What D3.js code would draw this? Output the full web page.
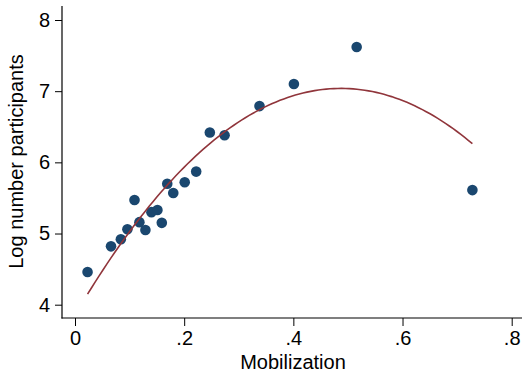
<!DOCTYPE html>
<html>
<head>
<meta charset="utf-8">
<script src="https://cdn.jsdelivr.net/npm/d3@7"></script>
<style>
  html, body { margin: 0; padding: 0; background: #fff; }
  svg { display: block; }
  text { font-family: "Liberation Sans", Arial, Helvetica, sans-serif; fill: #000; }
</style>
</head>
<body>
<svg id="chart" width="522" height="373"></svg>
<script>
// Data
const mobilization = [0.023, 0.066, 0.084, 0.096, 0.109, 0.118, 0.129, 0.140, 0.151, 0.159,
                      0.169, 0.180, 0.201, 0.222, 0.247, 0.274, 0.338, 0.401, 0.516, 0.728];
const logParticipants = [4.46, 4.82, 4.92, 5.06, 5.47, 5.16, 5.05, 5.30, 5.33, 5.15,
                         5.70, 5.57, 5.72, 5.87, 6.42, 6.38, 6.79, 7.10, 7.62, 5.61];
// Quadratic fit line (intercept, linear, quadratic)
const fitCoefficients = [3.854, 13.07, -13.41];
const fitRange = [0.023, 0.728];
const xTicks = [0, 0.2, 0.4, 0.6, 0.8];
const xTickLabels = ["0", ".2", ".4", ".6", ".8"];
const yTicks = [4, 5, 6, 7, 8];
const yTickLabels = ["4", "5", "6", "7", "8"];

const svg = d3.select("#chart");

const x = d3.scaleLinear().domain([0, 0.8]).range([75, 511.7]);
const y = d3.scaleLinear().domain([4, 8]).range([304.7, 20]);

const axisLeftX = 62, axisBottomY = 318;

const fitPts = d3.range(0, 101).map(i => {
  const xv = fitRange[0] + (fitRange[1] - fitRange[0]) * i / 100;
  return [xv, fitCoefficients[0] + fitCoefficients[1] * xv + fitCoefficients[2] * xv * xv];
});

// Axes
const yAxis = d3.axisLeft(y).tickValues(yTicks).tickFormat((d, i) => yTickLabels[i]).tickSize(7).tickPadding(5);
const gy = svg.append("g").attr("transform", `translate(${axisLeftX},0)`).call(yAxis);
gy.select(".domain").remove();
gy.append("line").attr("x1", 0).attr("x2", 0).attr("y1", 6).attr("y2", axisBottomY + 0.5)
  .attr("stroke", "#000").attr("stroke-width", 1.2);

const xAxis = d3.axisBottom(x).tickValues(xTicks).tickFormat((d, i) => xTickLabels[i]).tickSize(8).tickPadding(5);
const gx = svg.append("g").attr("transform", `translate(0,${axisBottomY})`).call(xAxis);
gx.select(".domain").remove();
gx.append("line").attr("x1", axisLeftX - 0.5).attr("x2", 522).attr("y1", 0).attr("y2", 0)
  .attr("stroke", "#000").attr("stroke-width", 1.2);

svg.selectAll(".tick line").attr("stroke", "#000").attr("stroke-width", 1);
svg.selectAll(".tick text").style("font-size", "20px").attr("fill", "#000")
  .style("font-family", '"Liberation Sans", Arial, sans-serif');

// Points
svg.append("g").selectAll("circle").data(mobilization).join("circle")
  .attr("cx", d => x(d)).attr("cy", (d, i) => y(logParticipants[i]))
  .attr("r", 5.3).attr("fill", "#1a476f");

// Fit line
svg.append("path").datum(fitPts)
  .attr("d", d3.line().x(d => x(d[0])).y(d => y(d[1])))
  .attr("fill", "none").attr("stroke", "#90353b").attr("stroke-width", 1.6);

// Axis titles
svg.append("text").attr("x", 293).attr("y", 368.5).attr("text-anchor", "middle")
  .style("font-size", "20px").text("Mobilization");
svg.append("text").attr("transform", "translate(23,161.5) rotate(-90)").attr("text-anchor", "middle")
  .style("font-size", "20px").text("Log number participants");
</script>
</body>
</html>
